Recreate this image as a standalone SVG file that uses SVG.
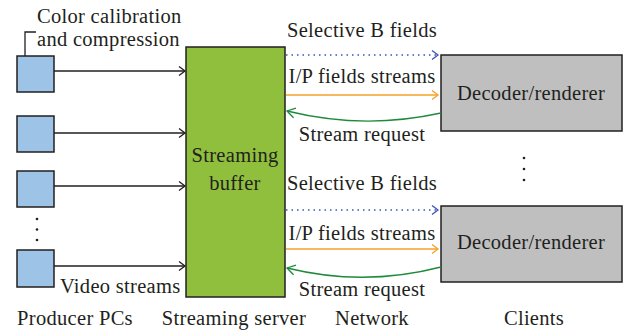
<svg xmlns="http://www.w3.org/2000/svg" width="630" height="331" viewBox="0 0 630 331">
<style>
text{font-family:'Liberation Serif','Times New Roman',serif;font-size:20.5px;letter-spacing:0.3px;fill:#231f20}
.m{text-anchor:middle}
.pc{fill:#9dc3e6;stroke:#231f20;stroke-width:1.5}
.buf{fill:#8fbf3c;stroke:#231f20;stroke-width:1.5}
.cl{fill:#bfbfbf;stroke:#231f20;stroke-width:1.5}
.k{stroke:#231f20;stroke-width:1.3;fill:none}
.b{stroke:#3a55b4;stroke-width:1.3;fill:none;stroke-dasharray:1.5 4}
.o{stroke:#f5a02a;stroke-width:1.3;fill:none}
.g{stroke:#1e8a3c;stroke-width:1.3;fill:none}
</style>
<defs>
<marker id="ak" markerWidth="10" markerHeight="10" refX="8" refY="5" orient="auto" markerUnits="userSpaceOnUse"><path d="M2,0.5 L8,5 L2,9.5" fill="none" stroke="#231f20" stroke-width="1.3"/></marker>
<marker id="ab" markerWidth="10" markerHeight="10" refX="8" refY="5" orient="auto" markerUnits="userSpaceOnUse"><path d="M2,0.5 L8,5 L2,9.5" fill="none" stroke="#3a55b4" stroke-width="1.3"/></marker>
<marker id="ao" markerWidth="10" markerHeight="10" refX="8" refY="5" orient="auto" markerUnits="userSpaceOnUse"><path d="M2,0.5 L8,5 L2,9.5" fill="none" stroke="#f5a02a" stroke-width="1.3"/></marker>
<marker id="ag" markerWidth="12" markerHeight="12" refX="10" refY="6" orient="auto" markerUnits="userSpaceOnUse"><path d="M2,1 L10,6 L2,11" fill="none" stroke="#1e8a3c" stroke-width="1.3"/></marker>
</defs>
<rect width="630" height="331" fill="#fff"/>
<g id="pc1"><rect class="pc" x="17" y="56" width="37" height="36"/></g>
<g id="pc2"><rect class="pc" x="17" y="116" width="37" height="36"/></g>
<g id="pc3"><rect class="pc" x="17" y="171" width="37" height="36"/></g>
<g id="pc4"><rect class="pc" x="17" y="250" width="37" height="37"/></g>
<g id="buffer"><rect class="buf" x="186" y="47" width="99" height="250"/>
<text class="m" x="235" y="162">Streaming</text><text class="m" x="235" y="190">buffer</text></g>
<g id="client1"><rect class="cl" x="441" y="55" width="181" height="76"/><text class="m" x="531" y="100">Decoder/renderer</text></g>
<g id="client2"><rect class="cl" x="441" y="206" width="181" height="76"/><text class="m" x="531" y="249">Decoder/renderer</text></g>
<g id="connectors">
<path class="k" d="M25,56 V32 H36"/>
<path class="k" d="M54,71 H185" marker-end="url(#ak)"/>
<path class="k" d="M54,133 H185" marker-end="url(#ak)"/>
<path class="k" d="M54,186 H185" marker-end="url(#ak)"/>
<path class="k" d="M54,266 H185" marker-end="url(#ak)"/>
<path class="b" d="M286,55 H438" marker-end="url(#ab)"/>
<path class="o" d="M286,95 H438" marker-end="url(#ao)"/>
<path class="g" d="M441,113 Q364,130 287,111" marker-end="url(#ag)"/>
<path class="b" d="M286,210 H438" marker-end="url(#ab)"/>
<path class="o" d="M286,249 H438" marker-end="url(#ao)"/>
<path class="g" d="M441,267 Q364,287 287,268" marker-end="url(#ag)"/>
</g>
<g id="dots" fill="#231f20">
<circle cx="37" cy="219" r="1.3"/><circle cx="37" cy="229.5" r="1.3"/><circle cx="37" cy="240" r="1.3"/>
<circle cx="524" cy="158" r="1.3"/><circle cx="524" cy="169" r="1.3"/><circle cx="524" cy="180" r="1.3"/>
</g>
<g id="labels">
<text x="37" y="23">Color calibration</text>
<text x="37" y="46">and compression</text>
<text x="60" y="293">Video streams</text>
<text class="m" x="362" y="37">Selective B fields</text>
<text class="m" x="362" y="83">I/P fields streams</text>
<text class="m" x="362" y="141">Stream request</text>
<text class="m" x="362" y="190">Selective B fields</text>
<text class="m" x="362" y="240">I/P fields streams</text>
<text class="m" x="362" y="296">Stream request</text>
<text class="m" x="75" y="325">Producer PCs</text>
<text class="m" x="234" y="325">Streaming server</text>
<text class="m" x="372" y="325">Network</text>
<text class="m" x="534" y="325">Clients</text>
</g>
</svg>
